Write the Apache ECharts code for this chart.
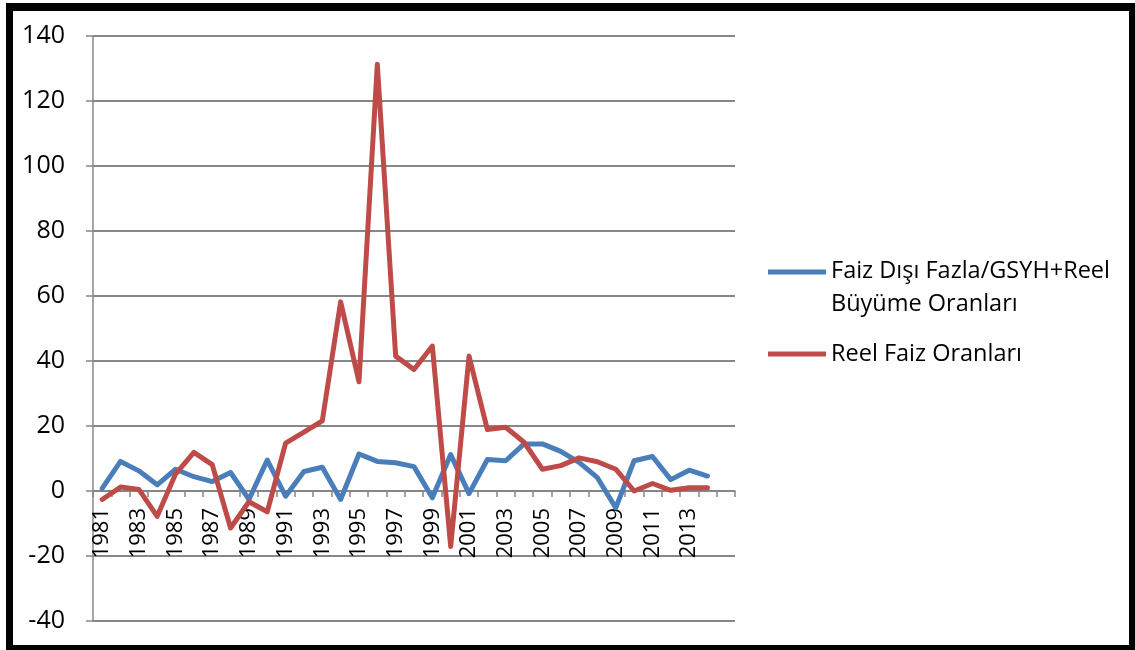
<!DOCTYPE html>
<html>
<head>
<meta charset="utf-8">
<script src="https://cdn.jsdelivr.net/npm/echarts@6/dist/echarts.min.js"></script>
<style>
  html, body { margin: 0; padding: 0; background: #fff; }
  #chart { position: absolute; left: 0; top: 0; width: 1135px; height: 650px; }
  #frame {
    position: absolute; left: 6px; top: 3px; width: 1129px; height: 647px;
    box-sizing: border-box; border-style: solid; border-color: #000;
    border-width: 8px 6px 5px 7px; pointer-events: none;
  }
</style>
</head>
<body>
<div id="chart"></div>
<div id="frame"></div>
<script>
// Years 1981-2014, plus one trailing empty slot on the category axis
const years = ['1981','1982','1983','1984','1985','1986','1987','1988','1989','1990',
  '1991','1992','1993','1994','1995','1996','1997','1998','1999','2000',
  '2001','2002','2003','2004','2005','2006','2007','2008','2009','2010',
  '2011','2012','2013','2014',''];

const seriesNames = ['Faiz Dışı Fazla/GSYH+Reel Büyüme Oranları', 'Reel Faiz Oranları'];

// Faiz Dışı Fazla/GSYH + Reel Büyüme Oranları (%)
const primarySurplusGrowth = [0.8, 9.1, 6.2, 1.9, 6.7, 4.4, 2.9, 5.7, -2.6, 9.5,
  -1.6, 6.0, 7.3, -2.6, 11.4, 9.1, 8.7, 7.5, -2.1, 11.2,
  -0.8, 9.7, 9.3, 14.5, 14.5, 12.2, 8.8, 4.1, -5.2, 9.3,
  10.6, 3.5, 6.4, 4.6, null];

// Reel Faiz Oranları (%)
const realInterest = [-2.6, 1.2, 0.5, -7.8, 5.2, 11.9, 8.1, -11.4, -3.3, -6.4,
  14.7, 18.1, 21.6, 58.2, 33.6, 131.3, 41.5, 37.4, 44.6, -17.1,
  41.5, 18.9, 19.6, 15.0, 6.7, 7.8, 10.2, 9.0, 6.7, 0.0,
  2.3, 0.2, 1.0, 1.0, null];

const yTicks = { min: -40, max: 140, step: 20 };

const FONT = '"Open Sans", sans-serif';
const GRID_GRAY = '#878787';

const GRID = { left: 93, right: 400, top: 36, bottom: 29 };
const plotHeight = 650 - GRID.top - GRID.bottom;
// the category axis sits on the zero line
const zeroOffset = -plotHeight * (0 - yTicks.min) / (yTicks.max - yTicks.min);

// legend swatch drawn at the height of the first text line of a two-line label
const firstLineIcon = 'path://M0,0L0,0M0,14.5L58,14.5L58,19.5L0,19.5ZM58,66L58,66';

const chart = echarts.init(document.getElementById('chart'), null, { renderer: 'canvas' });

chart.setOption({
  animation: false,
  backgroundColor: 'transparent',
  grid: Object.assign({ containLabel: false, outerBoundsMode: 'none' }, GRID),
  legend: [
    {
      data: [seriesNames[0]],
      orient: 'vertical',
      left: 768, top: 255, padding: 0,
      itemWidth: 58, itemHeight: 66, icon: firstLineIcon,
      formatter: () => 'Faiz Dışı Fazla/GSYH+Reel\nBüyüme Oranları',
      textStyle: { fontFamily: FONT, fontSize: 23.5, color: '#000', lineHeight: 33 }
    },
    {
      data: [seriesNames[1]],
      orient: 'vertical',
      left: 768, top: 337.5, padding: 0,
      itemWidth: 58, itemHeight: 5, icon: 'rect',
      textStyle: { fontFamily: FONT, fontSize: 23.5, color: '#000', lineHeight: 33 }
    }
  ],
  xAxis: {
    type: 'category',
    data: years,
    boundaryGap: true,
    position: 'bottom',
    offset: zeroOffset,
    axisLine: { onZero: false, lineStyle: { color: GRID_GRAY, width: 1.5 } },
    axisTick: { show: true, interval: 0, alignWithLabel: false, length: 6, lineStyle: { color: GRID_GRAY, width: 1.5 } },
    axisLabel: { interval: 1, rotate: 90, margin: 17, fontFamily: FONT, fontSize: 22, color: '#000' },
    splitLine: { show: false }
  },
  yAxis: {
    type: 'value',
    min: yTicks.min, max: yTicks.max, interval: yTicks.step,
    axisLine: { show: true, lineStyle: { color: GRID_GRAY, width: 1.5 } },
    axisTick: { show: true, length: 7, lineStyle: { color: GRID_GRAY, width: 1.5 } },
    axisLabel: { margin: 28, fontFamily: FONT, fontSize: 25, color: '#000' },
    splitLine: { show: true, lineStyle: { color: GRID_GRAY, width: 2 } }
  },
  series: [
    {
      name: seriesNames[0], type: 'line', data: primarySurplusGrowth,
      symbol: 'none', color: '#4A7EBB',
      lineStyle: { width: 5, color: '#4A7EBB', cap: 'round', join: 'round' }
    },
    {
      name: seriesNames[1], type: 'line', data: realInterest,
      symbol: 'none', color: '#BE4B48',
      lineStyle: { width: 5, color: '#BE4B48', cap: 'round', join: 'round' }
    }
  ]
});
</script>
</body>
</html>
